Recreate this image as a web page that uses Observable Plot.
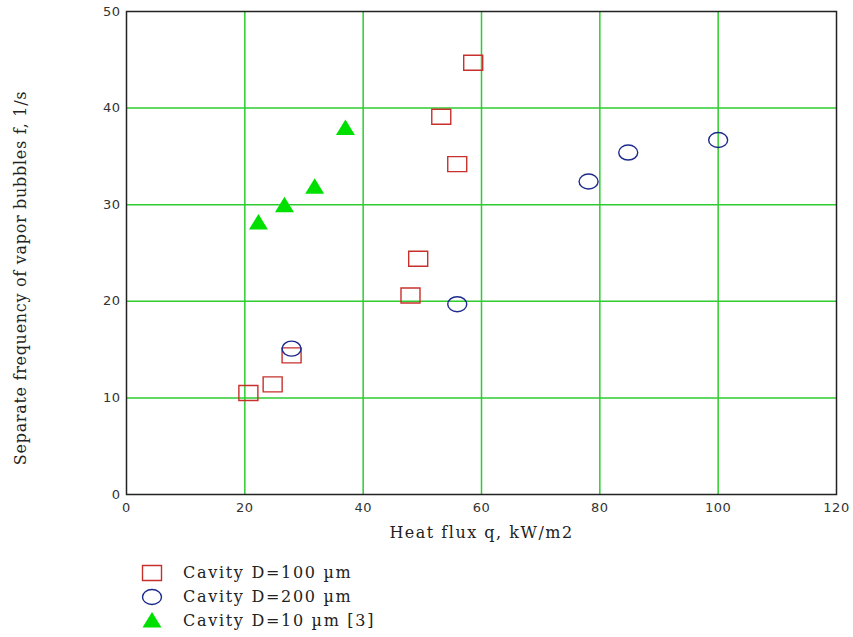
<!DOCTYPE html>
<html>
<head>
<meta charset="utf-8">
<script src="https://cdn.jsdelivr.net/npm/d3@7"></script>
<script src="https://cdn.jsdelivr.net/npm/@observablehq/plot@0.6"></script>
<style>
  html, body { margin: 0; padding: 0; background: #fff; }
  #wrap { position: relative; width: 853px; height: 637px; background: #fff; }
  #legend { position: absolute; left: 140px; top: 561px; font-family: "DejaVu Serif", serif; font-size: 16px; letter-spacing: 1.7px; color: #222; }
  #legend div { display: flex; align-items: center; height: 23.7px; }
  #legend svg { width: 24px; height: 20px; margin-right: 19px; }
</style>
</head>
<body>
<div id="wrap"><div id="chart"></div><div id="legend"></div></div>
<script>
// Data
const squareQ = [20.6, 24.7, 27.9, 48.0, 49.3, 53.2, 55.9, 58.6];
const squareF = [10.5, 11.4, 14.4, 20.6, 24.4, 39.1, 34.2, 44.7];
const circleQ = [27.9, 55.9, 78.1, 84.8, 100.0];
const circleF = [15.1, 19.7, 32.4, 35.4, 36.7];
const triangleQ = [22.3, 26.7, 31.8, 37.0];
const triangleF = [28.2, 30.0, 31.9, 38.0];
const seriesNames = ["Cavity D=100 \u00b5m", "Cavity D=200 \u00b5m", "Cavity D=10 \u00b5m [3]"];
const xTicks = [0, 20, 40, 60, 80, 100, 120];
const yTicks = [0, 10, 20, 30, 40, 50];
const xGrid = [20, 40, 60, 80, 100];
const yGrid = [10, 20, 30, 40];
const xLabel = "Heat flux q, kW/m2";
const yLabel = "Separate frequency of vapor bubbles f, 1/s";

const squares = squareQ.map((q, i) => ({q, f: squareF[i]}));
const circles = circleQ.map((q, i) => ({q, f: circleF[i]}));
const triangles = triangleQ.map((q, i) => ({q, f: triangleF[i]}));

const rectSymbol = {draw(ctx) { ctx.moveTo(-9.5, -7.5); ctx.lineTo(9.5, -7.5); ctx.lineTo(9.5, 7.5); ctx.lineTo(-9.5, 7.5); ctx.closePath(); }};
const ellipseSymbol = {draw(ctx) {
  const rx = 9.5, ry = 7.5, k = 0.5523;
  ctx.moveTo(rx, 0);
  ctx.bezierCurveTo(rx, ry * k, rx * k, ry, 0, ry);
  ctx.bezierCurveTo(-rx * k, ry, -rx, ry * k, -rx, 0);
  ctx.bezierCurveTo(-rx, -ry * k, -rx * k, -ry, 0, -ry);
  ctx.bezierCurveTo(rx * k, -ry, rx, -ry * k, rx, 0);
  ctx.closePath();
}};
const triSymbol = {draw(ctx) { ctx.moveTo(0, -8); ctx.lineTo(9.5, 7.5); ctx.lineTo(-9.5, 7.5); ctx.closePath(); }};

const red = "#c8302c", blue = "#1c2a8c", green = "#00e000", gridColor = "#2ecc2e";

const chart = Plot.plot({
  width: 853,
  height: 555,
  marginLeft: 126,
  marginRight: 17,
  marginTop: 11,
  marginBottom: 61,
  style: {fontFamily: "'DejaVu Sans', sans-serif", fontSize: "13px", letterSpacing: "0.5px", color: "#333", background: "#fff"},
  x: {domain: [0, 120], ticks: xTicks, tickSize: 0, tickPadding: 8, label: null},
  y: {domain: [0, 50], ticks: yTicks, tickSize: 0, tickPadding: 6, label: null},
  marks: [
    Plot.gridX(xGrid, {stroke: gridColor, strokeOpacity: 1, strokeWidth: 1.5}),
    Plot.gridY(yGrid, {stroke: gridColor, strokeOpacity: 1, strokeWidth: 1.5}),
    Plot.frame({stroke: "#222", strokeWidth: 1.5}),
    Plot.dot(squares, {x: "q", y: "f", symbol: rectSymbol, r: 5, stroke: red, strokeWidth: 1.4, fill: "none"}),
    Plot.dot(circles, {x: "q", y: "f", symbol: ellipseSymbol, r: 5, stroke: blue, strokeWidth: 1.4, fill: "none"}),
    Plot.dot(triangles, {x: "q", y: "f", symbol: triSymbol, r: 5, fill: green, stroke: "none"}),
    Plot.text([xLabel], {text: d => d, frameAnchor: "bottom", dy: 43, fontFamily: "'DejaVu Serif', serif", fontSize: 16, fill: "#222"}),
    Plot.text([yLabel], {text: d => d, frameAnchor: "left", textAnchor: "middle", dx: -106, dy: 25, rotate: -90, fontFamily: "'DejaVu Serif', serif", fontSize: 16, fill: "#222"})
  ]
});
// letter spacing for the axis labels
d3.select(chart).selectAll("text").filter(function() { return this.textContent === yLabel; }).attr("letter-spacing", "0.7px");
d3.select(chart).selectAll("text").filter(function() { return this.textContent === xLabel; }).attr("letter-spacing", "1.5px");
document.getElementById("chart").appendChild(chart);

// Legend
const legendSymbols = [
  {sym: rectSymbol, fill: "none", stroke: red},
  {sym: ellipseSymbol, fill: "none", stroke: blue},
  {sym: triSymbol, fill: green, stroke: "none"}
];
const legend = document.getElementById("legend");
seriesNames.forEach((name, i) => {
  const row = document.createElement("div");
  const s = legendSymbols[i];
  const p = d3.symbol(s.sym)();
  row.innerHTML = `<svg viewBox="-12 -10 24 20"><path d="${p}" fill="${s.fill}" stroke="${s.stroke}" stroke-width="1.4"></path></svg><span>${name}</span>`;
  legend.appendChild(row);
});
</script>
</body>
</html>
